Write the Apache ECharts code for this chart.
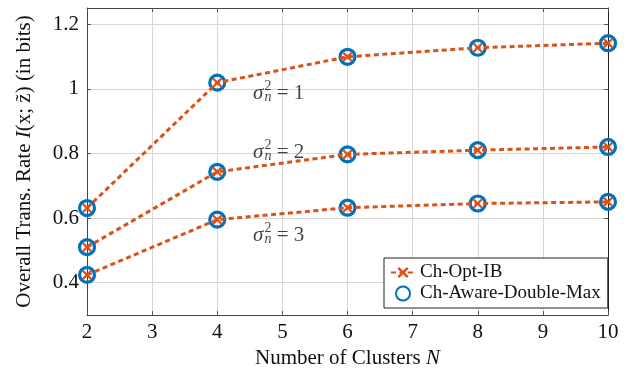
<!DOCTYPE html>
<html><head><meta charset="utf-8">
<script src="https://cdn.jsdelivr.net/npm/echarts@6/dist/echarts.min.js"></script>
<style>html,body{margin:0;padding:0;background:#fff}#c{width:630px;height:374px}</style>
</head><body><div id="c"></div>
<script>
// ---- data ----
const clusters = [2, 4, 6, 8, 10];
const rateSigma1 = [0.631, 1.019, 1.099, 1.127, 1.141];
const rateSigma2 = [0.510, 0.743, 0.797, 0.810, 0.820];
const rateSigma3 = [0.424, 0.595, 0.632, 0.645, 0.650];
const yTickValues = [0.4, 0.6, 0.8, 1, 1.2];
const noiseVariances = ['1', '2', '3'];
// annotation anchors in data units (N, rate)
const annotationN = [4.55, 4.55, 4.55];
const annotationRate = [0.987, 0.804, 0.546];

const FONT = '"Liberation Serif", "DejaVu Serif", serif';
const ORANGE = '#D95319', BLUE = '#0072BD';
const CROSS = 'path://M0,1.6L1.6,0L5,3.4L8.4,0L10,1.6L6.6,5L10,8.4L8.4,10L5,6.6L1.6,10L0,8.4L3.4,5Z';

const pairs = vals => clusters.map((n, i) => [n, vals[i]]);
const allRates = [rateSigma1, rateSigma2, rateSigma3];

const series = [];
allRates.forEach(r => {
  series.push({
    name: 'Ch-Aware-Double-Max', type: 'scatter', data: pairs(r), z: 2,
    symbol: 'circle', symbolSize: 15,
    itemStyle: { color: 'rgba(0,0,0,0)', borderColor: BLUE, borderWidth: 3.2, opacity: 1 }
  });
});
allRates.forEach(r => {
  series.push({
    name: 'Ch-Opt-IB', type: 'line', data: pairs(r), z: 3,
    symbol: CROSS, symbolSize: 10, showAllSymbol: true,
    lineStyle: { color: ORANGE, width: 3, type: [5, 3.5] },
    itemStyle: { color: ORANGE, opacity: 1 }
  });
});
noiseVariances.forEach((v, i) => {
  const pt = [[annotationN[i], annotationRate[i]]];
  series.push({
    name: 'ann' + i, type: 'scatter', data: pt, symbolSize: 1, z: 5, silent: true,
    itemStyle: { color: 'rgba(0,0,0,0)' },
    label: {
      show: true, position: 'inside', align: 'left', verticalAlign: 'middle',
      formatter: '{s|σ}{sub|n}{eq| = ' + v + '}',
      rich: {
        s: { fontFamily: FONT, fontStyle: 'italic', fontSize: 21, color: '#111', lineHeight: 28, verticalAlign: 'middle' },
        sub: { fontFamily: FONT, fontStyle: 'italic', fontSize: 14, color: '#111', verticalAlign: 'bottom', lineHeight: 14, padding: [0, 0, 3, 1] },
        eq: { fontFamily: FONT, fontSize: 21, color: '#111', lineHeight: 28, verticalAlign: 'middle' }
      }
    }
  });
  series.push({
    name: 'annsup' + i, type: 'scatter', data: pt, symbolSize: 1, z: 5, silent: true,
    itemStyle: { color: 'rgba(0,0,0,0)' },
    label: {
      show: true, position: 'inside', align: 'left', verticalAlign: 'middle',
      formatter: '{s|σ}{sup|2}{eq| = ' + v + '}',
      rich: {
        s: { fontFamily: FONT, fontStyle: 'italic', fontSize: 21, color: 'rgba(0,0,0,0)', lineHeight: 28, verticalAlign: 'middle' },
        sup: { fontFamily: FONT, fontSize: 14, color: '#111', verticalAlign: 'top', lineHeight: 14, padding: [0, 0, 0, 1] },
        eq: { fontFamily: FONT, fontSize: 21, color: 'rgba(0,0,0,0)', lineHeight: 28, verticalAlign: 'middle' }
      }
    }
  });
});

const chart = echarts.init(document.getElementById('c'), null, { renderer: 'canvas' });
chart.setOption({
  animation: false,
  backgroundColor: '#fff',
  grid: { left: 87, right: 22, top: 8, bottom: 59, show: false },
  legend: {
    data: ['Ch-Opt-IB', 'Ch-Aware-Double-Max'],
    orient: 'vertical', left: 384, top: 258,
    backgroundColor: '#fff', borderColor: '#222', borderWidth: 1, borderRadius: 0,
    padding: [5, 7, 5, 6], itemGap: 2, itemWidth: 24, itemHeight: 14,
    textStyle: { fontFamily: FONT, fontSize: 19, color: '#111' }
  },
  xAxis: [{
    type: 'value', min: 2, max: 10, interval: 1,
    name: 'Number of Clusters {i|N}', nameLocation: 'middle', nameGap: 31,
    nameTextStyle: { fontFamily: FONT, fontSize: 21, color: '#111',
      rich: { i: { fontFamily: FONT, fontSize: 21, fontStyle: 'italic', color: '#111' } } },
    axisLine: { show: true, lineStyle: { color: '#444', width: 1 } },
    axisTick: { show: true, inside: true, length: 4, lineStyle: { color: '#555' } },
    axisLabel: { fontFamily: FONT, fontSize: 21, color: '#111', margin: 7 },
    splitLine: { show: true, lineStyle: { color: '#d8d8d8', width: 1 } }
  }, {
    type: 'value', min: 2, max: 10, interval: 1, position: 'top',
    axisLine: { show: true, lineStyle: { color: '#444', width: 1 } },
    axisTick: { show: true, inside: true, length: 4, lineStyle: { color: '#555' } },
    axisLabel: { show: false }, splitLine: { show: false }
  }],
  yAxis: [{
    type: 'value', min: 0.3, max: 1.25,
    name: 'Overall Trans. Rate {i|I}(x; z̃) (in bits)', nameLocation: 'middle', nameGap: 52,
    nameTextStyle: { fontFamily: FONT, fontSize: 21, color: '#111',
      rich: { i: { fontFamily: FONT, fontSize: 21, fontStyle: 'italic', color: '#111' } } },
    axisLine: { show: true, lineStyle: { color: '#444', width: 1 } },
    axisTick: { show: true, inside: true, length: 4, customValues: yTickValues, lineStyle: { color: '#555' } },
    axisLabel: { fontFamily: FONT, fontSize: 21, color: '#111', margin: 8, customValues: yTickValues },
    splitLine: { show: true, lineStyle: { color: '#d8d8d8', width: 1 } }
  }, {
    type: 'value', min: 0.3, max: 1.25, position: 'right',
    axisLine: { show: true, lineStyle: { color: '#222', width: 1 } },
    axisTick: { show: true, inside: true, length: 4, customValues: yTickValues, lineStyle: { color: '#555' } },
    axisLabel: { show: false, customValues: yTickValues }, splitLine: { show: false }
  }],
  series: series
});
</script></body></html>
